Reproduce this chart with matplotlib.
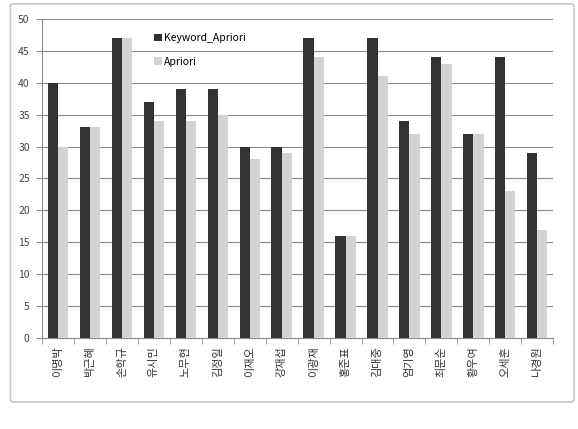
import numpy as np
import matplotlib.pyplot as plt
from matplotlib.patches import FancyBboxPatch

plt.rcParams['font.family'] = ['Noto Sans CJK KR', 'DejaVu Sans']

names = ['이명박', '박근혜', '손학규', '유시민', '노무현', '김정일', '이재오', '강재섭',
         '이광재', '홍준표', '김대중', '엄기영', '최문순', '황우여', '오세훈', '나경원']
keyword_apriori = [40, 33, 47, 37, 39, 39, 30, 30, 47, 16, 47, 34, 44, 32, 44, 29]
apriori = [30, 33, 47, 34, 34, 35, 28, 29, 44, 16, 41, 32, 43, 32, 23, 17]

fig = plt.figure(figsize=(5.78, 4.29), dpi=100)
ax = fig.add_axes([0.073, 0.212, 0.884, 0.744])

# outer chart frame
frame = FancyBboxPatch((0.018, 0.063), 0.975, 0.928, boxstyle='round,pad=0,rounding_size=0.005',
                       transform=fig.transFigure, facecolor='none', edgecolor='#c8c8c8', lw=1.2)
fig.patches.append(frame)

x = np.arange(len(names))
w = 0.32
ax.bar(x - w/2, keyword_apriori, w, color='#333333', label='Keyword_Apriori', zorder=3)
ax.bar(x + w/2, apriori, w, color='#d3d3d3', label='Apriori', zorder=3)

ax.set_xlim(-0.5, len(names) - 0.5)
ax.set_ylim(0, 50)
ax.set_yticks(range(0, 51, 5))
ax.grid(axis='y', color='#8c8c8c', lw=0.8, zorder=0)

ax.set_xticks(x)
ax.set_xticklabels(names, rotation=90, fontsize=8, color='#333333')
ax.set_xticks(np.arange(-0.5, len(names)), minor=True)
ax.tick_params(axis='x', which='major', length=0, pad=6)
ax.tick_params(axis='x', which='minor', length=4, color='#8c8c8c')
ax.tick_params(axis='y', length=4, color='#8c8c8c', labelsize=7.5, labelcolor='#444444', pad=5)

for s in ['top', 'right']:
    ax.spines[s].set_visible(False)
ax.spines['left'].set_color('#8c8c8c')
ax.spines['bottom'].set_color('#8c8c8c')

ax.legend(loc='upper left', bbox_to_anchor=(0.2, 0.985), frameon=False, fontsize=7.5,
          handlelength=0.75, handleheight=0.75, handletextpad=0.2, labelspacing=1.3)

fig.savefig('out.png', dpi=100)
